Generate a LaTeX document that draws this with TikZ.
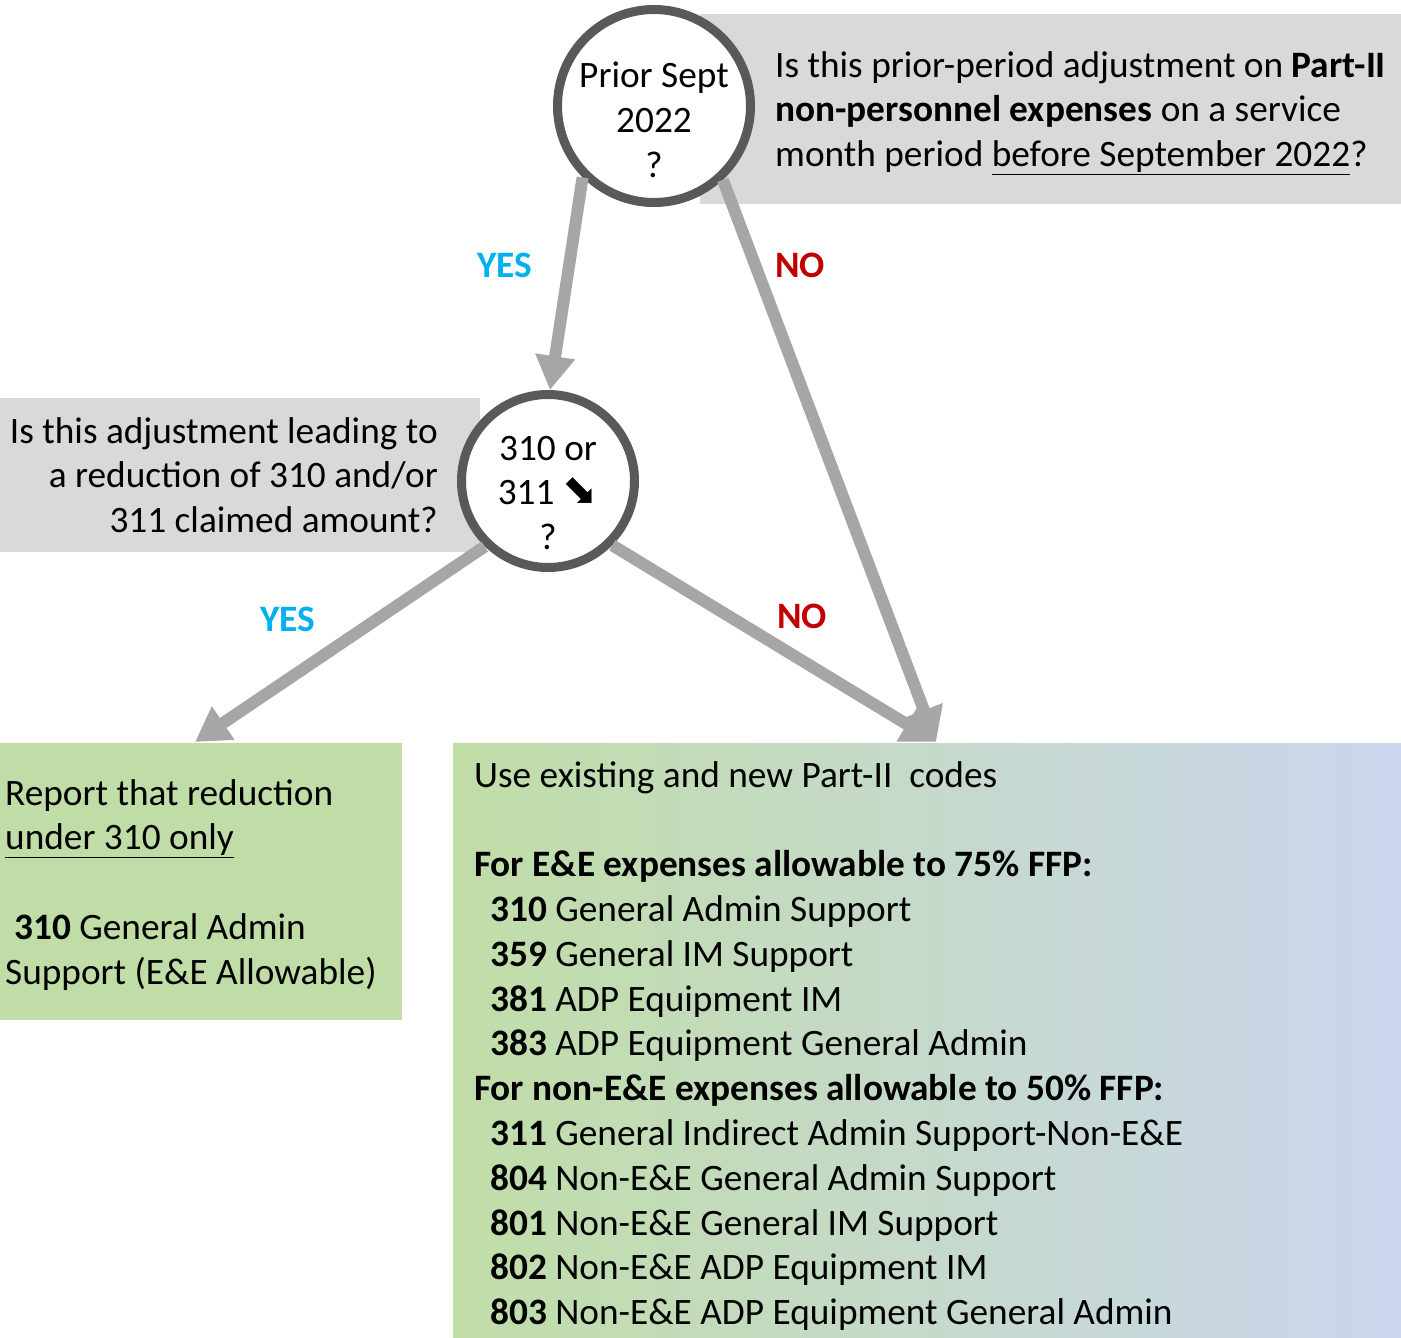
\documentclass[tikz,border=0pt]{standalone}
\usepackage{fontspec}
\setmainfont{Carlito}
\newfontfamily\symbolfont{DejaVu Sans}
\usetikzlibrary{arrows.meta}
\definecolor{boxgray}{HTML}{D9D9D9}
\definecolor{ringgray}{HTML}{595959}
\definecolor{arrowgray}{HTML}{A6A6A6}
\definecolor{yescyan}{HTML}{00B0F0}
\definecolor{nored}{HTML}{C00000}
\definecolor{codegreen}{RGB}{192,221,167}
\definecolor{codeblue}{RGB}{202,214,238}

\begin{document}
\begin{tikzpicture}[x=1pt,y=-1pt,
    font=\fontsize{37.3}{44.8}\selectfont,
    question/.style={circle,draw=ringgray,line width=9pt,fill=white,minimum size=193pt,inner sep=0pt},
    flow/.style={draw=arrowgray,line width=12pt,-{Triangle[width=38pt,length=34pt]}},
    yeslabel/.style={text=yescyan,font=\fontsize{37.3}{44.8}\selectfont\bfseries},
    nolabel/.style={text=nored,font=\fontsize{37.3}{44.8}\selectfont\bfseries},
    txt/.style={inner sep=0pt}]
    \useasboundingbox (0,0) rectangle (1401,1338);
    % backgrounds
    \fill[boxgray] (700,14) rectangle (1401,204);
    \fill[boxgray] (0,398) rectangle (480,552);
    \fill[codegreen] (0,743) rectangle (402,1020);
    \shade[left color=codegreen,right color=codeblue] (453,743) rectangle (1401,1338);
    % decisions
    \node[question] (q1) at (654,106) {};
    \node[question,minimum size=173pt] (q2) at (548,481) {};
    \node[txt,align=center] (q1text) at ([yshift=-14pt]q1.center) {Prior Sept\\2022\\?};
    \node[txt,align=center] (q2text) at ([yshift=-12pt]q2.center) {310 or\\311 {\symbolfont\fontsize{42}{42}\selectfont ⬊}\\?};
    \node[txt,align=left,anchor=base west] (q1ask) at (775,166.6) {Is this prior-period adjustment on \textbf{Part-II}\\\textbf{non-personnel expenses} on a service\\month period \underline{before September 2022}?};
    \node[txt,align=right,anchor=base east] (q2ask) at (438,532.6) {Is this adjustment leading to\\a reduction of 310 and/or\\311 claimed amount?};
    % outcomes
    \node[txt,align=left,anchor=base west] (only310) at (5,984.2) {Report that reduction\\\underline{under 310 only}\\[44.8pt]\hspace*{9pt}\textbf{310} General Admin\\Support (E\&E Allowable)};
    \node[txt,align=left,anchor=base west] (codes) at (474,1324.6) {Use existing and new Part-II\ \ codes\\[44.8pt]
        \textbf{For E\&E expenses allowable to 75\% FFP:}\\
        \hspace*{16pt}\textbf{310} General Admin Support\\
        \hspace*{16pt}\textbf{359} General IM Support\\
        \hspace*{16pt}\textbf{381} ADP Equipment IM\\
        \hspace*{16pt}\textbf{383} ADP Equipment General Admin\\
        \textbf{For non-E\&E expenses allowable to 50\% FFP:}\\
        \hspace*{16pt}\textbf{311} General Indirect Admin Support-Non-E\&E\\
        \hspace*{16pt}\textbf{804} Non-E\&E General Admin Support\\
        \hspace*{16pt}\textbf{801} Non-E\&E General IM Support\\
        \hspace*{16pt}\textbf{802} Non-E\&E ADP Equipment IM\\
        \hspace*{16pt}\textbf{803} Non-E\&E ADP Equipment General Admin};
    % connectors
    \coordinate (q2top) at (550,390);
    \coordinate (yestip) at (195,742);
    \coordinate (notip) at (936,742);
    \draw[flow] (q1.225) -- (q2top);
    \draw[flow] (q1.313) -- (notip);
    \draw[flow] (q2.226) -- (yestip);
    \draw[flow] (q2.315) -- (notip);
    \node[yeslabel] (yes1) at (505,265) {YES};
    \node[nolabel] (no1) at (800,265) {NO};
    \node[yeslabel] (yes2) at (288,619) {YES};
    \node[nolabel] (no2) at (802,616) {NO};
\end{tikzpicture}
\end{document}
